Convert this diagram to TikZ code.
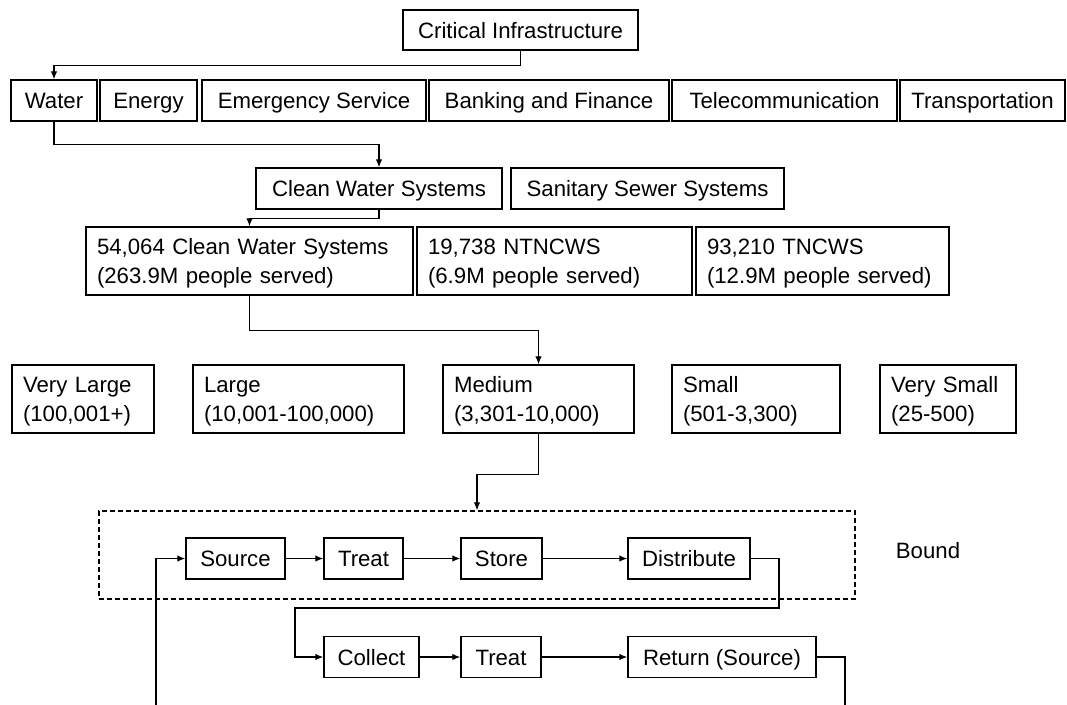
\documentclass[tikz,border=0pt]{standalone}
\usepackage{fontspec}
\setmainfont{Liberation Sans}
\usetikzlibrary{arrows.meta}
\newcommand{\boxfont}{\fontsize{22.2}{28.5}\selectfont}
\newcommand{\linestrut}{\rule[-5pt]{0pt}{26pt}}
\begin{document}
\begin{tikzpicture}[x=1pt,y=-1pt,
  box/.style={draw, line width=1.4pt, inner sep=0pt, font=\boxfont, align=center,
    execute at begin node={\linestrut}},
  lbox/.style={box, align=left, inner xsep=11pt, inner ysep=0pt},
  row/.style={minimum height=41pt},
  tall/.style={minimum height=68pt},
  arr/.style={line width=1.2pt, -{Latex[length=8pt,width=6.5pt]}},
  link/.style={line width=1.2pt}]
\fill[white] (0,0) rectangle (1067,704);
\useasboundingbox (0,0) rectangle (1067,704);
\clip (0,0) rectangle (1067,704);

% top level
\node[box, minimum width=235pt, minimum height=40pt] (ci) at (520.5,30) {Critical Infrastructure};

% sectors
\node[box,row,minimum width=86pt]  (water) at (54,100.5)   {Water};
\node[box,row,minimum width=97pt]  (energy) at (148.5,100.5) {Energy};
\node[box,row,minimum width=224pt] (emerg) at (314,100.5)  {Emergency Service};
\node[box,row,minimum width=240pt] (bank) at (549,100.5)   {Banking and Finance};
\node[box,row,minimum width=225pt] (tele) at (784.5,100.5) {Telecommunication};
\node[box,row,minimum width=165pt] (trans) at (982.5,100.5) {Transportation};

% water systems
\node[box,row,minimum width=246pt] (cws) at (379,188.5) {Clean Water Systems};
\node[box,row,minimum width=273pt] (ssw) at (647.5,188.5) {Sanitary Sewer Systems};

% counts
\node[lbox,tall,text width=305pt] (n1) at (249.5,261) {54,064 Clean Water Systems\\(263.9M people served)};
\node[lbox,tall,text width=253pt] (n2) at (554.5,261) {19,738 NTNCWS\\(6.9M people served)};
\node[lbox,tall,text width=231pt] (n3) at (822.5,261) {93,210 TNCWS\\(12.9M people served)};

% system sizes
\node[lbox,tall,text width=120pt] (vl) at (83,399)    {Very Large\\(100,001+)};
\node[lbox,tall,text width=189pt] (lg) at (298.5,399) {Large\\(10,001-100,000)};
\node[lbox,tall,text width=169pt] (md) at (538.5,399) {Medium\\(3,301-10,000)};
\node[lbox,tall,text width=146pt] (sm) at (756,399)   {Small\\(501-3,300)};
\node[lbox,tall,text width=114pt] (vs) at (948,399)   {Very Small\\(25-500)};

% system boundary
\node[draw, dashed, dash pattern=on 5pt off 3pt, line width=1.2pt, minimum width=756pt, minimum height=88pt, inner sep=0pt] (bnd) at (477,555) {};
\node[font=\boxfont] (bndlabel) at (928,551) {Bound};

% supply chain
\node[box,row,minimum width=99pt]  (src) at (235.5,558.5) {Source};
\node[box,row,minimum width=79pt]  (tr1) at (363.5,558.5) {Treat};
\node[box,row,minimum width=81pt]  (sto) at (501.5,558.5) {Store};
\node[box,row,minimum width=122pt] (dis) at (689,558.5)   {Distribute};

% return chain
\node[box,row,minimum width=95pt]  (col) at (371.5,657) {Collect};
\node[box,row,minimum width=80pt]  (tr2) at (501,657)   {Treat};
\node[box,row,minimum width=188pt] (ret) at (722,657)   {Return (Source)};

% routing points
\coordinate (d1) at (779,608);
\coordinate (c1) at (295,608);
\coordinate (r1) at (845,725);
\coordinate (s1) at (156,725);

% hierarchy connectors
\draw[arr] (ci.south) -- ++(0,15) -| (water.north);
\draw[arr] (water.south) -- ++(0,23) -| (cws.north);
\draw[arr] (cws.south) -- ++(0,9) -| (n1.north);
\draw[arr] (n1.south) -- ++(0,35) -| (md.north);
\draw[arr] (md.south) -- ++(0,41) -| (bnd.north);

% flow connectors
\draw[arr] (src) -- (tr1);
\draw[arr] (tr1) -- (sto);
\draw[arr] (sto) -- (dis);
\draw[arr] (dis.east) -| (d1) -- (c1) |- (col.west);
\draw[arr] (col) -- (tr2);
\draw[arr] (tr2) -- (ret);
\draw[arr] (ret.east) -| (r1) -- (s1) |- (src.west);
\end{tikzpicture}
\end{document}
